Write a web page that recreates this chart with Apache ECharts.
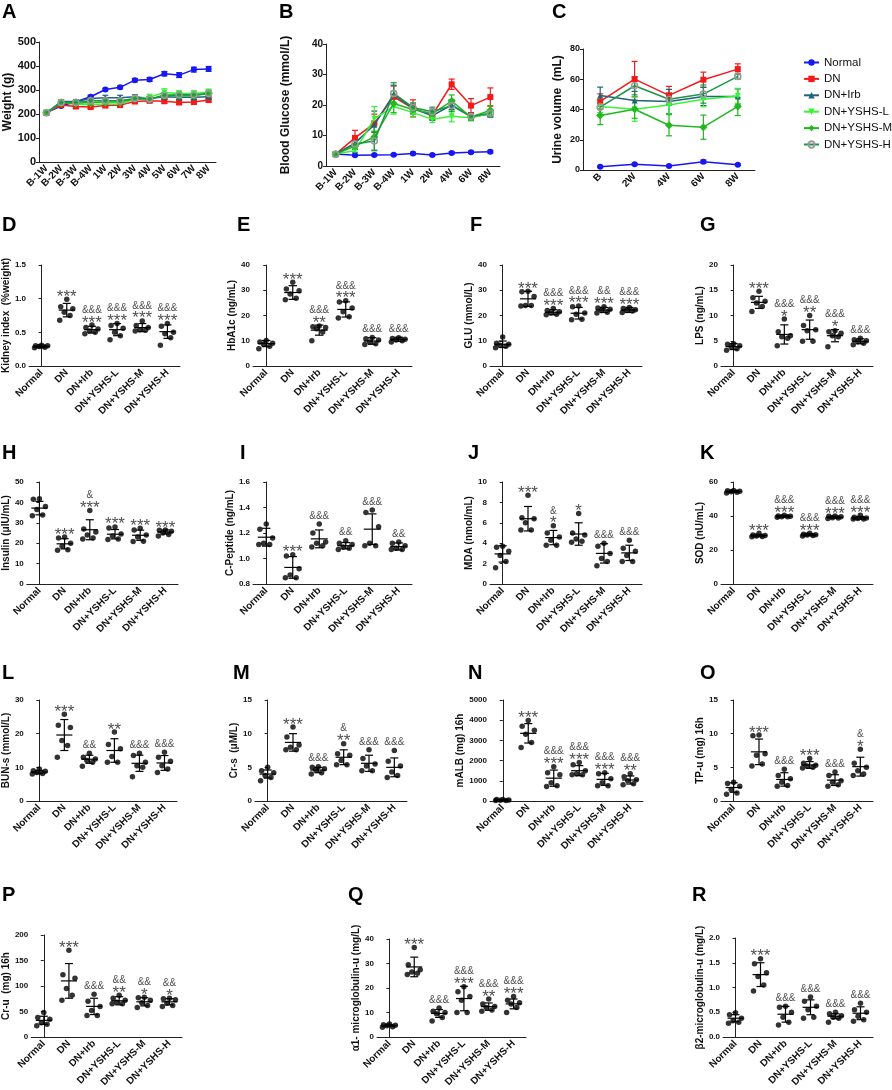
<!DOCTYPE html>
<html>
<head>
<meta charset="utf-8">
<script src="https://cdn.jsdelivr.net/npm/echarts@6/dist/echarts.min.js"></script>
<style>
html,body{margin:0;padding:0;background:#fff;}
#main{width:892px;height:1090px;}
</style>
</head>
<body>
<div id="main"></div>
<script>
// ---------- data ----------
var GROUPS = ['Normal','DN','DN+Irb','DN+YSHS-L','DN+YSHS-M','DN+YSHS-H'];

// A: body weight (g)
var weeksA = ['B-1W','B-2W','B-3W','B-4W','1W','2W','3W','4W','5W','6W','7W','8W'];
var weightMean = [
  [206, 233, 251, 272, 302, 311, 341, 344, 368, 362, 385, 388],
  [205, 238, 231, 229, 235, 237, 252, 255, 253, 248, 250, 258],
  [205, 252, 252, 265, 268, 268, 272, 265, 272, 270, 270, 272],
  [205, 248, 240, 240, 242, 242, 262, 270, 290, 285, 285, 292],
  [205, 245, 245, 248, 250, 250, 262, 262, 278, 276, 276, 285],
  [205, 248, 248, 255, 255, 255, 265, 262, 278, 280, 280, 285]
];
var weightSd = [
  [5, 6, 6, 6, 5, 6, 7, 8, 9, 10, 10, 10],
  [4, 6, 6, 6, 6, 6, 7, 7, 8, 8, 8, 7],
  [4, 7, 7, 8, 10, 10, 8, 8, 10, 10, 10, 10],
  [4, 7, 8, 8, 8, 8, 10, 12, 15, 12, 12, 12],
  [4, 6, 6, 7, 8, 8, 8, 10, 12, 10, 10, 12],
  [4, 6, 6, 7, 8, 8, 8, 10, 10, 10, 10, 10]
];

// B: blood glucose (mmol/L)
var weeksB = ['B-1W','B-2W','B-3W','B-4W','1W','2W','4W','6W','8W'];
var gluMean = [
  [3.9, 3.5, 3.6, 3.7, 4.1, 3.6, 4.3, 4.5, 4.7],
  [3.9, 9.2, 14.0, 22.7, 18.9, 16.7, 26.8, 19.8, 22.6],
  [4.0, 7.5, 13.5, 23.5, 18.8, 16.5, 20.0, 16.2, 17.0],
  [4.0, 5.0, 15.5, 19.5, 17.5, 15.3, 16.3, 15.8, 17.2],
  [3.9, 6.5, 9.5, 20.5, 18.5, 17.2, 21.3, 16.0, 18.3],
  [3.8, 7.2, 8.2, 23.8, 19.2, 17.8, 19.8, 16.2, 17.3]
];
var gluSd = [
  [0.3, 0.3, 0.3, 0.3, 0.4, 0.3, 0.4, 0.4, 0.4],
  [0.5, 2.5, 3.0, 3.5, 2.8, 1.5, 1.7, 2.3, 3.0],
  [0.5, 2.0, 4.5, 3.0, 1.5, 1.5, 1.5, 1.0, 1.0],
  [0.5, 1.5, 4.0, 2.5, 1.5, 1.0, 1.8, 1.0, 1.0],
  [0.4, 2.0, 4.5, 3.0, 1.5, 1.5, 2.0, 1.0, 1.5],
  [0.4, 1.5, 3.0, 3.5, 1.5, 1.5, 2.0, 1.0, 1.0]
];

// C: urine volume (mL)
var weeksC = ['B','2W','4W','6W','8W'];
var urineMean = [
  [2.2, 3.8, 2.7, 5.5, 3.5],
  [45.3, 60.1, 49.3, 59.7, 66.7],
  [49.3, 46.0, 45.3, 48.6, 48.6],
  [42.0, 40.2, 43.0, 46.8, 49.0],
  [36.0, 40.2, 29.6, 28.3, 42.0],
  [41.5, 55.7, 46.8, 50.2, 61.9]
];
var urineSd = [
  [0.5, 0.5, 0.5, 1.0, 0.5],
  [5, 11.7, 6, 5, 3.5],
  [5.5, 6, 8, 6, 5],
  [4, 8, 6, 5, 5],
  [6, 6, 7, 8, 6],
  [5, 6, 4, 6, 2]
];

// D-R: individual animals, mean, SD, significance marks
var kidneyPts = [[0.31,0.30,0.30,0.29,0.28,0.27],[0.99,0.88,0.85,0.80,0.75,0.68],[0.61,0.57,0.55,0.52,0.50,0.48],[0.63,0.60,0.56,0.50,0.45,0.39],[0.67,0.60,0.57,0.54,0.53,0.52],[0.63,0.59,0.50,0.48,0.42,0.31]];
var kidneyMean = [0.29,0.83,0.54,0.54,0.57,0.51];
var kidneySd = [0.02,0.10,0.05,0.09,0.06,0.10];
var kidneySig = ['','***','&&&\n***','&&&\n***','&&&\n***','&&&\n***'];

var hbaPts = [[10.1,9.5,9.0,8.5,7.8,6.8],[33.2,30.5,29.8,28.5,26.8,26.2],[15.8,15.5,15.2,14.8,13.5,10.0],[25.8,25.3,23.0,21.5,19.5,19.0],[11.3,10.8,10.3,9.5,8.8,8.5],[11.2,10.9,10.6,10.3,10.0,9.5]];
var hbaMean = [8.9,29.1,14.2,22.4,9.9,10.6];
var hbaSd = [1.2,2.7,2.0,3.0,1.3,0.8];
var hbaSig = ['','***','&&&\n**','&&&\n***','&&&','&&&'];

var gluPts = [[11.5,9.0,8.6,8.2,7.8,7.2],[29.6,29.4,27.5,24.0,24.0,23.8],[22.8,22.0,21.5,21.0,20.5,20.3],[23.8,23.5,21.0,20.5,18.5,18.3],[23.5,23.0,22.5,22.0,21.3,21.0],[23.2,22.8,22.3,22.0,21.8,21.2]];
var gluEndMean = [8.6,26.6,21.3,20.9,22.2,22.2];
var gluEndSd = [1.3,3.0,1.0,2.3,1.0,1.0];
var gluSig = ['','***','&&&\n***','&&&\n***','&&\n***','&&&\n***'];

var lpsPts = [[4.4,4.3,4.0,3.8,3.4,3.1],[14.8,13.5,12.8,12.5,11.8,10.8],[9.3,6.8,6.0,5.8,5.5,4.0],[10.0,8.0,7.2,7.0,4.9,4.9],[7.0,6.8,6.5,6.0,5.8,3.8],[5.5,5.2,5.0,4.8,4.5,4.2]];
var lpsMean = [3.85,12.6,6.25,7.2,6.0,4.9];
var lpsSd = [0.6,1.2,1.9,1.9,1.2,0.5];
var lpsSig = ['','***','&&&\n*','&&&\n**','&&&\n*','&&&'];

var insPts = [[41.8,41.5,38.0,36.5,33.8,33.5],[23.0,22.5,20.0,18.5,16.8,16.5],[36.0,27.0,25.5,24.0,22.5,22.0],[28.0,27.5,24.5,23.5,22.0,21.8],[27.3,26.5,24.0,23.0,21.0,20.8],[26.5,26.3,25.8,25.0,24.3,23.5]];
var insMean = [37.2,19.7,26.6,24.4,23.9,25.5];
var insSd = [3.3,2.5,4.9,2.3,2.5,1.0];
var insSig = ['','***','&\n***','***','***','***'];

var cpepPts = [[1.27,1.23,1.16,1.12,1.11,1.11],[1.03,1.02,0.92,0.87,0.85,0.85],[1.27,1.20,1.13,1.12,1.10,1.09],[1.14,1.12,1.11,1.09,1.08,1.07],[1.38,1.36,1.25,1.12,1.10,1.10],[1.13,1.12,1.10,1.08,1.07,1.07]];
var cpepMean = [1.167,0.93,1.154,1.10,1.23,1.094];
var cpepSd = [0.07,0.085,0.07,0.025,0.12,0.028];
var cpepSig = ['','***','&&&','&&','&&&','&&'];

var mdaPts = [[3.7,3.6,3.2,2.8,2.2,1.6],[8.7,6.5,6.4,6.0,5.3,5.3],[5.7,5.0,4.6,4.3,3.8,3.8],[6.9,5.0,4.8,4.4,4.2,4.1],[4.0,3.7,3.0,2.5,2.2,1.8],[4.3,3.5,3.2,2.8,2.2,2.2]];
var mdaMean = [2.95,6.4,4.55,4.9,3.0,3.05];
var mdaSd = [0.8,1.2,0.7,1.1,0.95,0.75];
var mdaSig = ['','***','&\n*','*','&&&','&&&'];

var sodPts = [[55.0,54.8,54.5,54.2,54.0,53.5],[29.8,28.8,28.5,28.2,28.0,27.8],[40.5,40.0,39.8,39.6,39.5,39.3],[29.8,29.2,29.0,28.8,28.5,28.2],[40.0,39.8,39.5,39.0,38.8,38.5],[40.5,39.2,38.8,38.5,38.3,38.2]];
var sodMean = [54.5,28.5,39.8,28.9,39.3,38.9];
var sodSd = [0.6,0.7,0.5,0.6,0.6,0.8];
var sodSig = ['','***','&&&\n***','&&&\n***','&&&\n***','&&&\n***'];

var bunPts = [[9.5,9.0,8.8,8.5,8.2,8.0],[25.8,22.5,21.8,18.0,16.5,13.0],[14.2,13.0,12.5,12.0,11.5,10.3],[20.5,16.8,15.5,13.2,11.5,11.5],[14.2,13.5,11.5,10.5,10.0,7.2],[14.5,13.0,11.8,10.5,9.5,8.5]];
var bunMean = [8.6,19.6,12.4,15.0,11.2,11.3];
var bunSd = [0.5,4.6,1.2,3.5,2.4,2.2];
var bunSig = ['','***','&&','**','&&&','&&&'];

var crsPts = [[5.0,4.5,4.2,3.8,3.5,3.0],[11.0,9.5,8.3,8.0,7.6,7.6],[5.1,5.0,4.8,4.6,4.2,4.0],[8.5,7.0,6.8,6.0,5.4,5.4],[7.6,6.3,5.5,5.2,4.5,4.5],[7.5,5.9,5.2,4.3,3.8,3.5]];
var crsMean = [4.0,8.7,4.6,6.5,5.6,5.0];
var crsSd = [0.6,1.3,0.4,1.1,1.2,1.4];
var crsSig = ['','***','&&&','&\n**','&&&','&&&'];

var albPts = [[80,70,50,40,30,20],[3980,3700,3500,3300,2900,2650],[1700,1400,1300,900,750,720],[1900,1800,1500,1350,1300,1300],[1400,1350,1100,900,750,750],[1350,1200,1050,1000,850,800]];
var albMean = [50,3350,1130,1500,1070,1040];
var albSd = [20,480,400,250,300,200];
var albSig = ['','***','&&&\n***','&&&\n***','&&&\n***','&&&\n**'];

var tpPts = [[2.8,2.6,2.2,1.7,1.2,1.0],[9.8,9.7,7.0,6.8,5.5,5.2],[4.7,3.8,3.3,2.8,2.3,2.2],[6.3,5.6,5.3,5.2,5.0,4.9],[4.3,3.8,3.0,2.8,2.4,2.2],[7.7,5.6,5.0,4.5,4.0,3.8]];
var tpMean = [2.0,7.3,3.2,5.35,3.1,5.1];
var tpSd = [0.7,1.9,1.0,0.5,0.8,1.4];
var tpSig = ['','***','&&&','***','&&&','&\n*'];

var cruPts = [[48,38,35,28,25,22],[170,122,115,95,82,72],[84,70,60,52,42,42],[82,76,72,68,65,65],[78,77,72,67,62,58],[76,75,73,66,62,60]];
var cruMean = [32.7,110,60,71,69,69];
var cruSd = [8,34,16,8,8,6];
var cruSig = ['','***','&&&','&&\n**','&&\n*','&&\n*'];

var a1mPts = [[5.3,5.0,4.8,4.6,4.2,4.0],[36.5,29.5,27.5,26.5,26.0,25.5],[11.8,10.5,10.0,9.5,8.0,6.5],[20.5,18.5,16.5,15.0,10.0,10.0],[15.5,13.5,12.5,12.0,11.0,10.5],[16.5,15.0,14.0,13.5,12.0,10.0]];
var a1mMean = [4.7,28.6,9.6,15.7,12.4,13.5];
var a1mSd = [0.4,4.0,1.6,5.0,1.5,2.0];
var a1mSig = ['','***','&&&','&&&\n***','&&&\n**','&&&\n***'];

var b2mPts = [[0.49,0.45,0.38,0.33,0.30,0.28],[1.58,1.48,1.30,1.22,1.05,0.93],[0.62,0.60,0.50,0.40,0.30,0.24],[0.81,0.72,0.62,0.55,0.40,0.38],[0.50,0.47,0.43,0.40,0.38,0.30],[0.68,0.55,0.50,0.42,0.35,0.32]];
var b2mMean = [0.38,1.26,0.46,0.60,0.42,0.48];
var b2mSd = [0.07,0.24,0.16,0.15,0.05,0.13];
var b2mSig = ['','***','&&&','&&&','&&&','&&&'];

// ---------- styling ----------
var FONT = 'Arial, "Liberation Sans", sans-serif';
var JITTER = [0.0, -0.24, 0.24, -0.1, 0.13, -0.28];
var STAR_LH = 14, AMP_LH = 12;
var GROUP_STYLE = [
  {color:'#1717f2', symbol:'circle'},
  {color:'#f21a1a', symbol:'rect'},
  {color:'#1f6478', symbol:'triangle'},
  {color:'#35f535', symbol:'triangle', rotate:180},
  {color:'#21b821', symbol:'diamond'},
  {color:'#1e9447', symbol:'circle', ring:'#9a9a9a'}
];

var grid = [], xAxis = [], yAxis = [], series = [], graphic = [];

function letter(t, x, y){
  graphic.push({type:'text', left:x, top:y, style:{text:t, font:'bold 20px ' + FONT, fill:'#000'}});
}

function yAxisBase(gi, o){
  return {
    type:'value', gridIndex:gi, min:o.min, max:o.max, interval:o.step,
    name:o.name, nameLocation:'middle', nameGap:o.gap,
    nameTextStyle:{fontFamily:FONT, fontWeight:'bold', fontSize:o.nameSize || 10, color:'#111'},
    axisLine:{show:true, lineStyle:{color:'#222', width:1}},
    axisTick:{show:true, length:3, lineStyle:{color:'#222'}},
    splitLine:{show:false},
    axisLabel:{fontFamily:FONT, fontWeight:'bold', fontSize:o.tickSize || 8, color:'#111', margin:3,
      formatter:function(v){ return o.dec ? v.toFixed(o.dec) : String(v); }}
  };
}

function errRender(capPx){
  return function(params, api){
    var x = api.value(0), m = api.value(1), s = api.value(2);
    var hi = api.coord([x, m + s]), lo = api.coord([x, m - s]);
    var st = {stroke:api.visual('color'), lineWidth:1.2};
    return {type:'group', children:[
      {type:'line', shape:{x1:hi[0], y1:hi[1], x2:lo[0], y2:lo[1]}, style:st},
      {type:'line', shape:{x1:hi[0]-capPx, y1:hi[1], x2:hi[0]+capPx, y2:hi[1]}, style:st},
      {type:'line', shape:{x1:lo[0]-capPx, y1:lo[1], x2:lo[0]+capPx, y2:lo[1]}, style:st}
    ]};
  };
}

function linePanel(o){
  var gi = grid.length;
  grid.push({left:o.box[0], top:o.box[1], width:o.box[2], height:o.box[3]});
  var xi = xAxis.length;
  xAxis.push({type:'category', gridIndex:gi, data:o.cats, boundaryGap:true,
    axisLine:{lineStyle:{color:'#222', width:1}},
    axisTick:{alignWithLabel:true, length:3, lineStyle:{color:'#222'}},
    axisLabel:{rotate:45, interval:0, fontFamily:FONT, fontWeight:'bold', fontSize:10, color:'#111', margin:5}});
  yAxis.push(yAxisBase(gi, o));
  o.mean.forEach(function(vals, g){
    var st = GROUP_STYLE[g];
    series.push({type:'custom', name:'err', xAxisIndex:xi, yAxisIndex:gi,
      itemStyle:{color:st.color}, renderItem:errRender(3), z:2,
      data:vals.map(function(v, i){ return [i, v, o.sd[g][i]]; })});
    series.push({type:'line', name:GROUPS[g], xAxisIndex:xi, yAxisIndex:gi, data:vals,
      symbol:st.symbol, symbolSize:st.symbol === 'diamond' ? 8 : 6, symbolRotate:st.rotate || 0,
      lineStyle:{color:st.color, width:1.5},
      itemStyle:st.ring ? {color:'rgba(0,0,0,0)', borderColor:st.ring, borderWidth:1.6} : {color:st.color},
      z:3 + g, animation:false});
  });
}

function dotPanel(o){
  var gi = grid.length;
  grid.push({left:o.box[0], top:o.box[1], width:o.box[2], height:o.box[3]});
  xAxis.push({type:'category', gridIndex:gi, data:GROUPS, boundaryGap:true,
    axisLine:{lineStyle:{color:'#222', width:1}},
    axisTick:{alignWithLabel:true, length:3, lineStyle:{color:'#222'}},
    axisLabel:{rotate:45, interval:0, fontFamily:FONT, fontWeight:'bold', fontSize:10, color:'#111', margin:5}});
  var xv = xAxis.length;
  xAxis.push({type:'value', gridIndex:gi, min:-0.5, max:5.5, show:false});
  yAxis.push(yAxisBase(gi, o));

  var dots = [], bars = [], marks = [];
  o.pts.forEach(function(list, g){
    list.forEach(function(v, j){ dots.push([g + JITTER[j], v]); });
    bars.push([g, o.mean[g], o.sd[g]]);
    if (o.sig[g]) {
      var top = Math.max(Math.max.apply(null, list), o.mean[g] + o.sd[g]);
      var lines = o.sig[g].split('\n');
      var txt = lines.map(function(s){ return s.charAt(0) === '&' ? '{a|' + s + '}' : '{s|' + s + '}'; }).join('\n');
      var lastStar = lines[lines.length - 1].charAt(0) === '*';
      var off = lastStar ? STAR_LH / 2 - 1.6 : AMP_LH / 2 - 7.5;
      marks.push({value:[g, top], label:{formatter:txt, offset:[0, off]}});
    }
  });
  series.push({type:'scatter', xAxisIndex:xv, yAxisIndex:gi, data:dots, symbolSize:5.5,
    itemStyle:{color:'#000'}, animation:false, z:2});
  series.push({type:'custom', xAxisIndex:xv, yAxisIndex:gi, data:bars, z:3, animation:false,
    renderItem:function(params, api){
      var x = api.value(0), m = api.value(1), s = api.value(2);
      var a = api.coord([x - 0.32, m]), b = api.coord([x + 0.32, m]);
      var hi = api.coord([x, m + s]), lo = api.coord([x, Math.max(m - s, o.min)]);
      var c = api.size([0.16, 0])[0];
      var st = {stroke:'#000', lineWidth:1.2};
      return {type:'group', children:[
        {type:'line', shape:{x1:a[0], y1:a[1], x2:b[0], y2:b[1]}, style:st},
        {type:'line', shape:{x1:hi[0], y1:hi[1], x2:lo[0], y2:lo[1]}, style:st},
        {type:'line', shape:{x1:hi[0]-c, y1:hi[1], x2:hi[0]+c, y2:hi[1]}, style:st},
        {type:'line', shape:{x1:lo[0]-c, y1:lo[1], x2:lo[0]+c, y2:lo[1]}, style:st}
      ]};
    }});
  series.push({type:'scatter', xAxisIndex:xv, yAxisIndex:gi, data:marks, symbolSize:1,
    itemStyle:{color:'rgba(0,0,0,0)'}, animation:false, silent:true, z:4,
    label:{show:true, position:'top', distance:0, align:'center',
      rich:{
        a:{fontFamily:FONT, fontSize:10, lineHeight:AMP_LH, color:'#222'},
        s:{fontFamily:FONT, fontSize:17, lineHeight:STAR_LH, color:'#222'}
      }}});
}

// ---------- panels ----------
letter('A', 2, 2); letter('B', 279, 2); letter('C', 552, 2);
linePanel({box:[39, 42, 177, 120], cats:weeksA, mean:weightMean, sd:weightSd,
  min:0, max:500, step:100, name:'Weight (g)', gap:24, nameSize:12, tickSize:11});
linePanel({box:[326, 44, 174, 122], cats:weeksB, mean:gluMean, sd:gluSd,
  min:0, max:40, step:10, name:'Blood Glucose (mmol/L)', gap:34, nameSize:12, tickSize:10});
linePanel({box:[583, 49, 172, 121], cats:weeksC, mean:urineMean, sd:urineSd,
  min:0, max:80, step:20, name:'Urine volume  (mL)', gap:19, nameSize:12, tickSize:9});

letter('D', 2, 215); letter('E', 237, 215); letter('F', 470, 215); letter('G', 700, 215);
dotPanel({box:[28, 265, 152, 101], pts:kidneyPts, mean:kidneyMean, sd:kidneySd, sig:kidneySig,
  min:0, max:1.5, step:0.5, dec:1, name:'Kidney index  (%weight)', gap:15});
dotPanel({box:[253, 265, 159, 101], pts:hbaPts, mean:hbaMean, sd:hbaSd, sig:hbaSig,
  min:0, max:40, step:10, name:'HbA1c (ng/mL)', gap:9});
dotPanel({box:[490, 265, 152, 101], pts:gluPts, mean:gluEndMean, sd:gluEndSd, sig:gluSig,
  min:0, max:40, step:10, name:'GLU (mmol/L)', gap:13});
dotPanel({box:[721, 265, 152, 101], pts:lpsPts, mean:lpsMean, sd:lpsSd, sig:lpsSig,
  min:0, max:20, step:5, name:'LPS (ng/mL)', gap:12});

letter('H', 2, 443); letter('I', 240, 443); letter('J', 468, 443); letter('K', 700, 443);
dotPanel({box:[25, 482, 153, 102], pts:insPts, mean:insMean, sd:insSd, sig:insSig,
  min:0, max:50, step:10, name:'Insulin (μIU/mL)', gap:11});
dotPanel({box:[253, 482, 159, 102], pts:cpepPts, mean:cpepMean, sd:cpepSd, sig:cpepSig,
  min:0.8, max:1.6, step:0.2, dec:1, name:'C-Peptide (ng/mL)', gap:10});
dotPanel({box:[490, 482, 152, 102], pts:mdaPts, mean:mdaMean, sd:mdaSd, sig:mdaSig,
  min:0, max:10, step:2, name:'MDA (nmol/mL)', gap:13});
dotPanel({box:[721, 482, 152, 102], pts:sodPts, mean:sodMean, sd:sodSd, sig:sodSig,
  min:0, max:60, step:20, name:'SOD (nU/mL)', gap:12});

letter('L', 2, 663); letter('M', 233, 663); letter('N', 468, 663); letter('O', 700, 663);
dotPanel({box:[26, 700, 151, 101], pts:bunPts, mean:bunMean, sd:bunSd, sig:bunSig,
  min:0, max:30, step:10, name:'BUN-s (mmol/L)', gap:14});
dotPanel({box:[255, 700, 152, 101], pts:crsPts, mean:crsMean, sd:crsSd, sig:crsSig,
  min:0, max:15, step:5, name:'Cr-s  (μM/L)', gap:12});
dotPanel({box:[490, 700, 153, 101], pts:albPts, mean:albMean, sd:albSd, sig:albSig,
  min:0, max:5000, step:1000, name:'mALB (mg) 16h', gap:19});
dotPanel({box:[721, 700, 152, 101], pts:tpPts, mean:tpMean, sd:tpSd, sig:tpSig,
  min:0, max:15, step:5, name:'TP-u (mg) 16h', gap:12});

letter('P', 2, 885); letter('Q', 348, 885); letter('R', 692, 885);
dotPanel({box:[30, 935, 152, 102], pts:cruPts, mean:cruMean, sd:cruSd, sig:cruSig,
  min:0, max:200, step:50, name:'Cr-u  (mg) 16h', gap:16});
dotPanel({box:[377, 939, 149, 98], pts:a1mPts, mean:a1mMean, sd:a1mSd, sig:a1mSig,
  min:0, max:40, step:10, name:'α1- microglobulin-u (mg/L)', gap:12});
dotPanel({box:[723, 938, 150, 99], pts:b2mPts, mean:b2mMean, sd:b2mSd, sig:b2mSig,
  min:0, max:2.0, step:0.5, dec:1, name:'β2-microglobulin-u (mg/L)', gap:14});

var chart = echarts.init(document.getElementById('main'));
chart.setOption({
  backgroundColor:'#fff',
  animation:false,
  textStyle:{fontFamily:FONT},
  grid:grid, xAxis:xAxis, yAxis:yAxis, series:series, graphic:graphic,
  legend:{data:GROUPS, orient:'vertical', left:803, top:56, padding:0, itemWidth:15, itemHeight:8, itemGap:3.4,
    textStyle:{fontFamily:FONT, fontSize:11.5, lineHeight:13, color:'#111'}}
});
</script>
</body>
</html>
